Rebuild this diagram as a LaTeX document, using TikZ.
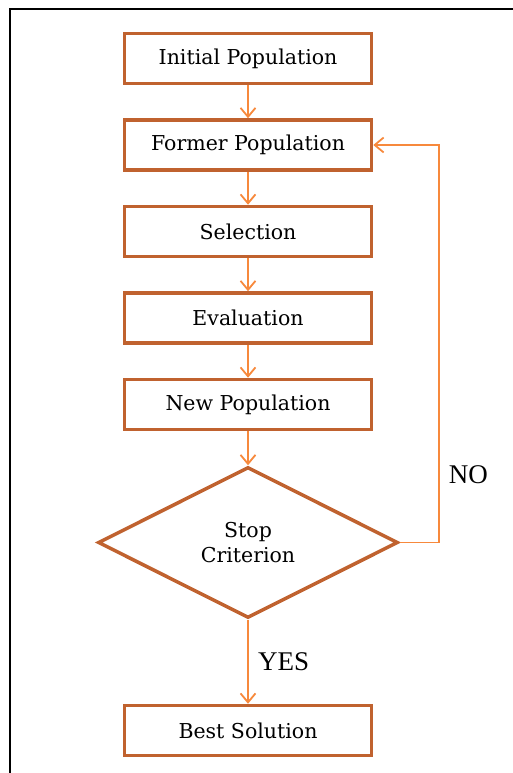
\documentclass[tikz,border=0pt]{standalone}
\usepackage{fontspec}
\setmainfont{DejaVu Serif}
\newfontfamily\answerfont{Liberation Serif}
\usetikzlibrary{arrows.meta,positioning,shapes.geometric}
\definecolor{boxbrown}{HTML}{C0622F}
\definecolor{arroworange}{HTML}{F7893C}

\begin{document}
\begin{tikzpicture}[
    x=1pt, y=-1pt,
    node distance=33pt,
    stage/.style={draw=boxbrown, line width=3.5pt, align=center,
                  minimum width=247pt, minimum height=50pt, fill=white,
                  font=\fontsize{20.5}{24}\selectfont},
    test/.style={draw=boxbrown, line width=3.5pt, diamond,
                 minimum width=300pt, minimum height=151pt, inner sep=0pt,
                 align=center, fill=white, font=\fontsize{20.5}{25}\selectfont},
    arrow/.style={-{Straight Barb[length=9pt, width=15pt]}, line width=1.8pt,
                  color=arroworange},
    answer/.style={text=black, font=\answerfont\fontsize{27}{30}\selectfont}
]
\useasboundingbox (0,0) rectangle (512,773);
\draw[line width=2.8pt] (10,790) -- (10,9) -- (530,9);

\node[stage] (init) at (248,58.5) {Initial Population};
\node[stage, below=of init] (former) {Former Population};
\node[stage, below=of former] (select) {Selection};
\node[stage, below=of select] (eval) {Evaluation};
\node[stage, below=of eval] (newpop) {New Population};
\node[test, below=34pt of newpop] (stop) {Stop\\Criterion};
\node[stage, below=84pt of stop] (best) {Best Solution};

\draw[arrow] (init) -- (former);
\draw[arrow] (former) -- (select);
\draw[arrow] (select) -- (eval);
\draw[arrow] (eval) -- (newpop);
\draw[arrow] (newpop) -- (stop);
\draw[arrow] (stop) -- node[answer, right=6pt] {YES} (best);
\draw[arrow] (stop.east) -- ++(39,0) |- node[answer, pos=0.085, right=6pt] {NO} (former.east);
\end{tikzpicture}
\end{document}
